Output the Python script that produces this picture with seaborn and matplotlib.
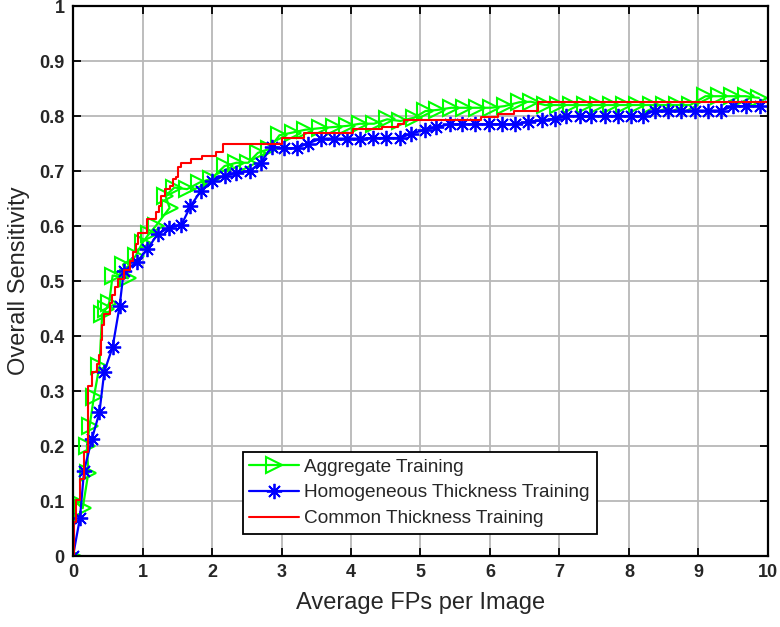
import matplotlib
matplotlib.use("Agg")
import matplotlib.pyplot as plt
import seaborn as sns

# Aggregate Training (green, right triangles)
agg_x = [0, 0.02, 0.14, 0.22, 0.20, 0.24, 0.30, 0.38, 0.42, 0.48, 0.52, 0.57,
         0.79, 0.72, 0.90, 1.00, 1.09, 1.19, 1.39, 1.33, 1.46, 1.64, 1.82,
         1.99, 2.18, 2.35, 2.52, 2.66, 2.82, 2.97, 3.16, 3.34, 3.56, 3.75,
         3.94, 4.13, 4.33, 4.52, 4.71, 4.91, 5.07, 5.24, 5.44, 5.63, 5.82,
         6.01, 6.21, 6.42, 6.59, 6.79, 6.98, 7.17, 7.36, 7.55, 7.74, 7.93,
         8.12, 8.31, 8.50, 8.69, 8.88, 9.10, 9.29, 9.48, 9.68, 9.87]
agg_y = [0, 0.10, 0.087, 0.151, 0.20, 0.237, 0.289, 0.345, 0.44, 0.45, 0.46,
         0.51, 0.505, 0.53, 0.545, 0.57, 0.585, 0.60, 0.633, 0.655, 0.67,
         0.667, 0.679, 0.686, 0.709, 0.715, 0.715, 0.733, 0.74, 0.765, 0.77,
         0.775, 0.778, 0.78, 0.782, 0.786, 0.786, 0.794, 0.791, 0.797, 0.809,
         0.811, 0.815, 0.815, 0.815, 0.815, 0.818, 0.825, 0.826, 0.82, 0.82,
         0.82, 0.82, 0.82, 0.82, 0.82, 0.82, 0.82, 0.82, 0.82, 0.82, 0.836,
         0.836, 0.836, 0.836, 0.833]

# Homogeneous Thickness Training (blue, asterisks)
hom_x = [0, 0.10, 0.159, 0.27, 0.38, 0.45, 0.57, 0.67, 0.73, 0.918, 1.07,
         1.216, 1.38, 1.56, 1.69, 1.84, 2.0, 2.18, 2.35, 2.54, 2.70, 2.86,
         3.04, 3.22, 3.375, 3.57, 3.76, 3.94, 4.13, 4.32, 4.51, 4.70, 4.87,
         5.06, 5.23, 5.42, 5.59, 5.78, 5.98, 6.17, 6.36, 6.55, 6.75, 6.93,
         7.10, 7.29, 7.46, 7.65, 7.84, 8.03, 8.20, 8.37, 8.56, 8.75, 8.95,
         9.14, 9.33, 9.50, 9.69, 9.88]
hom_y = [0, 0.069, 0.155, 0.212, 0.261, 0.335, 0.38, 0.454, 0.518, 0.534,
         0.558, 0.585, 0.597, 0.602, 0.636, 0.664, 0.682, 0.691, 0.697, 0.70,
         0.715, 0.744, 0.741, 0.742, 0.75, 0.759, 0.759, 0.759, 0.759, 0.76,
         0.76, 0.76, 0.768, 0.775, 0.78, 0.785, 0.785, 0.785, 0.785, 0.785,
         0.785, 0.79, 0.792, 0.795, 0.80, 0.80, 0.80, 0.80, 0.80, 0.80, 0.80,
         0.81, 0.81, 0.81, 0.81, 0.81, 0.81, 0.818, 0.818, 0.818]

# Common Thickness Training (red, stairs)
com_x = [0, 0.01, 0.05, 0.10, 0.16, 0.21, 0.22, 0.28, 0.34, 0.38, 0.40, 0.42,
         0.44, 0.53, 0.56, 0.60, 0.65, 0.73, 0.82, 0.86, 0.90, 0.94, 1.06,
         1.20, 1.24, 1.27, 1.32, 1.40, 1.44, 1.48, 1.51, 1.56, 1.70, 1.85,
         2.06, 2.16, 3.01, 3.33, 4.03, 4.45, 4.67, 4.76, 5.87, 6.11, 6.35,
         6.69, 10]
com_y = [0, 0.062, 0.102, 0.14, 0.19, 0.225, 0.31, 0.335, 0.35, 0.365, 0.393,
         0.42, 0.44, 0.46, 0.475, 0.49, 0.503, 0.52, 0.537, 0.553, 0.567,
         0.588, 0.612, 0.626, 0.637, 0.654, 0.668, 0.672, 0.686, 0.69, 0.707,
         0.714, 0.721, 0.728, 0.735, 0.75, 0.76, 0.769, 0.777, 0.78, 0.786,
         0.793, 0.798, 0.803, 0.81, 0.826, 0.826]

x_ticks = list(range(0, 11))
y_ticks = [0, 0.1, 0.2, 0.3, 0.4, 0.5, 0.6, 0.7, 0.8, 0.9, 1]
y_tick_labels = ['0', '0.1', '0.2', '0.3', '0.4', '0.5', '0.6', '0.7', '0.8',
                 '0.9', '1']

sns.set_style("whitegrid")
plt.rcParams['font.family'] = ['Liberation Sans', 'DejaVu Sans']

fig = plt.figure(figsize=(7.8, 6.27), dpi=100)
ax = fig.add_axes([0.0936, 0.1132, 0.891, 0.8772])

sns.lineplot(x=agg_x, y=agg_y, sort=False, estimator=None, ax=ax,
             color='#00ff00', linewidth=1.6, marker='>', markersize=11,
             markerfacecolor='none', markeredgecolor='#00ff00',
             markeredgewidth=1.5, label='Aggregate Training')
sns.lineplot(x=hom_x, y=hom_y, sort=False, estimator=None, ax=ax,
             color='#0000ff', linewidth=1.6, marker=(8, 2, 0), markersize=11,
             markeredgecolor='#0000ff', markeredgewidth=1.3,
             label='Homogeneous Thickness Training')
sns.lineplot(x=com_x, y=com_y, sort=False, estimator=None, ax=ax,
             color='#ff0000', linewidth=1.5, drawstyle='steps-post',
             label='Common Thickness Training')

ax.set_xlim(0, 10)
ax.set_ylim(0, 1)
ax.set_xticks(x_ticks)
ax.set_yticks(y_ticks)
ax.set_yticklabels(y_tick_labels)
ax.grid(True, color='#b8b8b8', linewidth=1.3, linestyle='-')
ax.tick_params(direction='in', length=6, width=1.3, color='black',
               top=True, right=True, bottom=True, left=True,
               labelsize=13, pad=6)
for lbl in ax.get_xticklabels() + ax.get_yticklabels():
    lbl.set_fontweight('bold')
for s in ax.spines.values():
    s.set_color('black')
    s.set_linewidth(1.6)

ax.set_xlabel('Average FPs per Image', fontsize=17, labelpad=8)
ax.set_ylabel('Overall Sensitivity', fontsize=17, labelpad=7)

leg = ax.legend(loc='lower left', bbox_to_anchor=(0.244, 0.04),
                fontsize=13.7, frameon=True, fancybox=False, framealpha=1,
                edgecolor='black', handlelength=2.6, handletextpad=0.3,
                borderpad=0.35, labelspacing=0.45, borderaxespad=0)
leg.get_frame().set_linewidth(1.3)

fig.savefig('out.png', dpi=100)
